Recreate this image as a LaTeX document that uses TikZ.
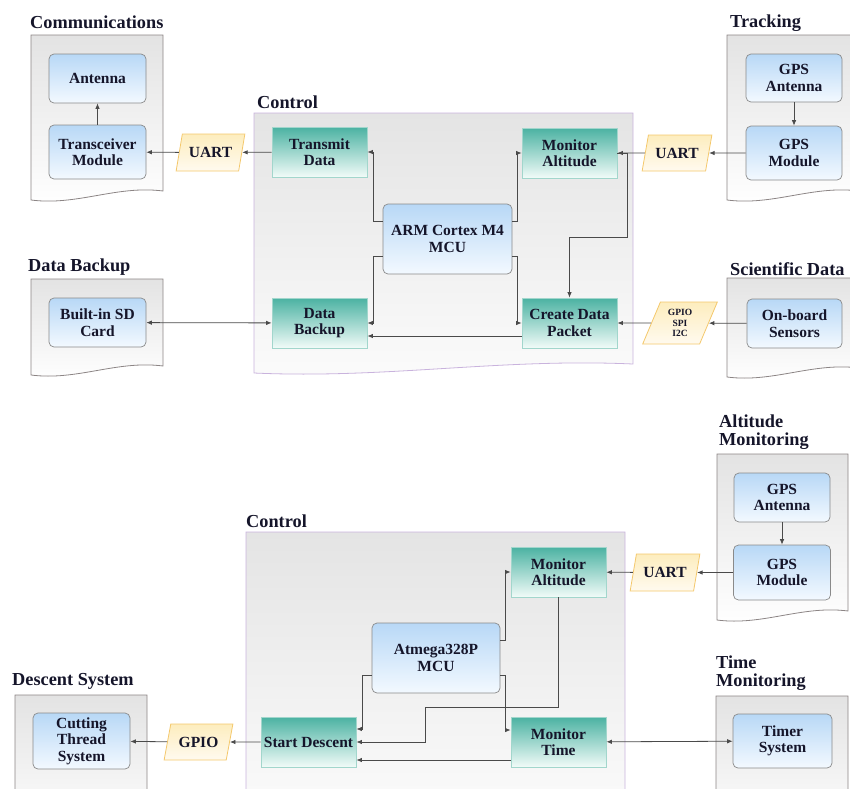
\documentclass[tikz,border=0pt]{standalone}
\usepackage{fontspec}
\setmainfont{Liberation Serif}
\usetikzlibrary{arrows.meta,shapes.geometric,calc}

\definecolor{txt}{HTML}{15152A}
\definecolor{docbd}{HTML}{8C8585}
\definecolor{doctop}{HTML}{E3E3E3}
\definecolor{docbot}{HTML}{FFFFFF}
\definecolor{ctrlbd}{HTML}{C9B3DD}
\definecolor{ctrltop}{HTML}{E4E4E4}
\definecolor{ctrlbot}{HTML}{FBFBFB}
\definecolor{bluebd}{HTML}{8A8A8A}
\definecolor{bluetop}{HTML}{B8D8F6}
\definecolor{bluebot}{HTML}{F3F9FF}
\definecolor{tealbd}{HTML}{A2D6CC}
\definecolor{tealtop}{HTML}{4BB2A2}
\definecolor{tealbot}{HTML}{F1FBF8}
\definecolor{parabd}{HTML}{F4C86C}
\definecolor{paratop}{HTML}{FDEDBE}
\definecolor{parabot}{HTML}{FFFAEF}
\definecolor{linec}{HTML}{4A4A4A}

\newcommand\mynodefont{\bfseries\fontsize{15.5}{16.5}\selectfont}
\newcommand\mytitlefont{\bfseries\fontsize{18.3}{17.5}\selectfont}
\newcommand\docbox[5]{%
  \path[#5] (#1,#2) -- (#3,#2) -- (#3,{#4-9})
    .. controls ({#3-0.35*(#3-#1)},{#4-15}) and ({#1+0.35*(#3-#1)},{#4+6}) .. (#1,#4) -- cycle;}

\tikzset{
  docst/.style={draw=docbd, line width=0.8pt, top color=doctop, bottom color=docbot},
  ctrlst/.style={draw=ctrlbd, line width=0.8pt, top color=ctrltop, bottom color=ctrlbot},
  blk/.style={draw=bluebd, line width=0.7pt, rounded corners=5pt, top color=bluetop, bottom color=bluebot,
    align=center, font=\mynodefont, text=txt, inner sep=1pt},
  tealbox/.style={draw=tealbd, line width=0.8pt, top color=tealtop, bottom color=tealbot,
    align=center, font=\mynodefont, text=txt, inner sep=1pt, minimum width=95pt, minimum height=50pt},
  para/.style={trapezium, trapezium left angle=68, trapezium right angle=112, trapezium stretches=true,
    draw=parabd, line width=0.8pt, top color=paratop, bottom color=parabot,
    align=center, font=\mynodefont, text=txt, inner sep=1pt},
  ttl/.style={font=\mytitlefont, text=txt, anchor=base west, inner sep=0pt, align=left},
  con/.style={draw=linec, line width=0.8pt, -{Latex[length=5.5pt,width=4.5pt]}},
  bicon/.style={draw=linec, line width=0.8pt, {Latex[length=5.5pt,width=4.5pt]}-{Latex[length=5.5pt,width=4.5pt]}},
}

\begin{document}
\begin{tikzpicture}[x=1pt,y=-1pt]
\useasboundingbox (0,0) rectangle (850,788);

% ---------- background boxes ----------
\docbox{31}{35}{163}{200}{docst}
\docbox{727}{35}{859}{200}{docst}
\docbox{727}{278}{859}{377}{docst}
\docbox{31}{279}{163}{375}{docst}
\docbox{254}{113}{633}{373}{ctrlst}
\docbox{246}{532}{625}{810}{ctrlst}
\docbox{717}{454}{848}{620}{docst}
\docbox{716}{696}{848}{830}{docst}
\docbox{15}{695}{147}{830}{docst}

% ---------- titles ----------
\node[ttl] (tcomm) at (30,28) {Communications};
\node[ttl] (tctrl1) at (257,108) {Control};
\node[ttl] (ttrack) at (730,27) {Tracking};
\node[ttl] (tdb) at (28,271) {Data Backup};
\node[ttl] (tsci) at (730,275) {Scientific Data};
\node[ttl] (tctrl2) at (246,527) {Control};
\node[ttl] (talt) at (719,445) {Altitude\\Monitoring};
\node[ttl] (ttime) at (716,686) {Time\\Monitoring};
\node[ttl] (tdesc) at (12,685) {Descent System};

% ---------- top diagram ----------
\node[blk, minimum width=97pt, minimum height=49pt] (antenna) at (97.5,78.5) {Antenna};
\node[blk, minimum width=97pt, minimum height=54pt] (trans) at (97.5,152) {Transceiver\\Module};
\node[para, minimum width=69pt, minimum height=37pt] (uart1) at (210.5,152.5) {UART};

\node[tealbox] (txd) at (319.5,152) {Transmit\\Data};
\node[tealbox] (mona) at (569.5,153) {Monitor\\Altitude};
\node[blk, minimum width=129pt, minimum height=70pt] (mcu) at (447.5,239) {ARM Cortex M4\\MCU};
\node[tealbox] (dbk) at (319.5,323) {Data\\Backup};
\node[tealbox] (cdp) at (569.5,323) {Create Data\\Packet};

\node[blk, minimum width=96pt, minimum height=48pt] (gpsant) at (794,78) {GPS\\Antenna};
\node[blk, minimum width=96pt, minimum height=54pt] (gpsmod) at (794,153) {GPS\\Module};
\node[para, minimum width=70pt, minimum height=36pt] (uart2) at (677,153) {UART};

\node[blk, minimum width=95pt, minimum height=49pt] (sens) at (794.5,323.5) {On-board\\Sensors};
\node[para, minimum width=75pt, minimum height=42pt, font=\bfseries\fontsize{9.5}{10.5}\selectfont] (gpio1) at (680,323) {GPIO\\SPI\\I2C};

\node[blk, minimum width=97pt, minimum height=49pt] (sd) at (97.5,322.5) {Built-in SD\\Card};

% top connectors
\draw[con] (trans) -- (antenna);
\draw[con] (uart1) -- (trans);
\draw[con] (txd) -- (uart1);
\draw[con] ([yshift=18pt]mcu.west) -- ++(-9,0) |- (txd.east);
\draw[con] ([yshift=-17pt]mcu.west) -- ++(-9,0) |- (dbk.east);
\draw[con] ([yshift=18pt]mcu.east) -- ++(5,0) |- (mona.west);
\draw[con] ([yshift=-17pt]mcu.east) -- ++(5,0) |- (cdp.west);
\draw[con] (mona.east) -- ++(10,0) -- ++(0,84) -| (cdp.north);
\draw[con] (uart2) -- (mona);
\draw[con] (gpsmod) -- (uart2);
\draw[con] (gpsant) -- (gpsmod);
\draw[con] ([yshift=-13pt]cdp.west) -- ([yshift=-13pt]dbk.east);
\draw[con] (gpio1) -- (cdp);
\draw[con] (sens) -- (gpio1);
\draw[bicon] (sd) -- (dbk);

% ---------- bottom diagram ----------
\node[tealbox] (mona2) at (558.5,572) {Monitor\\Altitude};
\node[blk, minimum width=128pt, minimum height=70pt] (mcu2) at (436,658) {Atmega328P\\MCU};
\node[tealbox] (sdesc) at (308.5,742) {Start Descent};
\node[tealbox] (mont) at (558.5,742) {Monitor\\Time};

\node[blk, minimum width=96pt, minimum height=49pt] (gpsant2) at (782,497.5) {GPS\\Antenna};
\node[blk, minimum width=97pt, minimum height=55pt] (gpsmod2) at (782,572.5) {GPS\\Module};
\node[para, minimum width=70pt, minimum height=37pt] (uart3) at (665,572.5) {UART};

\node[blk, minimum width=99pt, minimum height=54pt] (timer) at (782.5,741) {Timer\\System};

\node[blk, minimum width=97pt, minimum height=56pt] (cut) at (81.5,741) {Cutting\\Thread\\System};
\node[para, minimum width=69pt, minimum height=36pt] (gpio2) at (198.5,742) {GPIO};

% bottom connectors
\draw[con] (gpsant2) -- (gpsmod2);
\draw[con] (gpsmod2) -- (uart3);
\draw[con] (uart3) -- (mona2);
\draw[con] ([yshift=18pt]mcu2.east) -- ++(5,0) |- (mona2.west);
\draw[con] ([yshift=-17pt]mcu2.east) -- ++(5,0) |- ([yshift=12pt]mont.west);
\draw[con] ([yshift=-17pt]mcu2.west) -- ++(-9,0) |- ([yshift=13pt]sdesc.east);
\draw[con] (mona2.south) -- ++(0,110) -- ++(-133.5,0) |- (sdesc.east);
\draw[con] ([yshift=-18pt]mont.west) -- ([yshift=-18pt]sdesc.east);
\draw[bicon] (mont) -- (timer);
\draw[con] (sdesc) -- (gpio2);
\draw[con] (gpio2) -- (cut);
\end{tikzpicture}
\end{document}
